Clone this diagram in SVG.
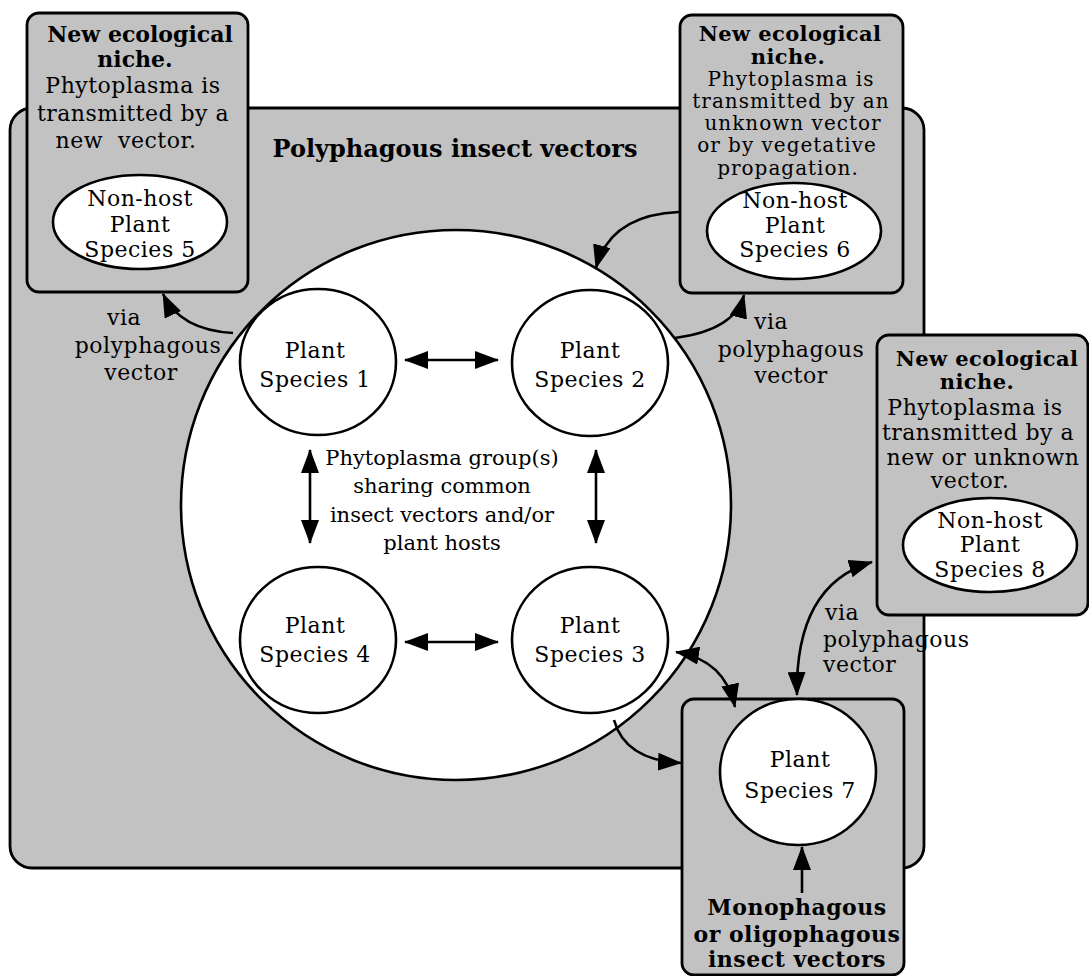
<svg xmlns="http://www.w3.org/2000/svg" width="1089" height="976" viewBox="0 0 1089 976">
<style>
.box{fill:#c2c2c2;stroke:#000;stroke-width:2.8}
.node{fill:#fff;stroke:#000;stroke-width:2.6}
text{font-family:"DejaVu Serif","Liberation Serif",serif;fill:#000;text-anchor:middle}
.b{font-weight:bold;font-size:22px}
.bs{font-weight:bold;font-size:21px;letter-spacing:0.4px}
.t{font-size:22px;letter-spacing:0.5px}
.s{font-size:20px;letter-spacing:1px}
.m{font-size:21px}
.n{font-size:22px;letter-spacing:0.5px}
.c{fill:none;stroke:#000;stroke-width:2.6}
.l{text-anchor:start}
</style>
<defs>
<marker id="ah" viewBox="0 0 24 18" refX="23" refY="9" markerWidth="24" markerHeight="18" markerUnits="userSpaceOnUse" orient="auto-start-reverse">
<path d="M0,0 L24,9 L0,18 z" fill="#000"/>
</marker>
</defs>
<g id="polyphagous-region">
<rect class="box" x="10" y="108" width="914" height="760" rx="22"/>
<text class="b" x="455" y="157" style="font-size:24px">Polyphagous insect vectors</text>
</g>
<g id="phytoplasma-group">
<circle class="node" cx="456" cy="505" r="275"/>
<text class="m" x="442" y="465">Phytoplasma group(s)</text>
<text class="m" x="442" y="493">sharing common</text>
<text class="m" x="442" y="522">insect vectors and/or</text>
<text class="m" x="442" y="550">plant hosts</text>
</g>
<g id="niche5">
<rect class="box" x="27" y="13" width="221" height="279" rx="12"/>
<text class="b" x="140" y="42">New ecological</text>
<text class="b" x="135" y="67">niche.</text>
<text class="t" x="133" y="93">Phytoplasma is</text>
<text class="t" x="133" y="121">transmitted by a</text>
<text class="t" x="126" y="148" xml:space="preserve">new  vector.</text>
<ellipse class="node" cx="140" cy="222" rx="87" ry="47"/>
<text class="n" x="140" y="206">Non-host</text>
<text class="n" x="140" y="232">Plant</text>
<text class="n" x="140" y="257">Species 5</text>
</g>
<g id="niche6">
<rect class="box" x="680" y="15" width="223" height="278" rx="12"/>
<text class="bs" x="790" y="41">New ecological</text>
<text class="bs" x="788" y="64">niche.</text>
<text class="s" x="791" y="86">Phytoplasma is</text>
<text class="s" x="791" y="108">transmitted by an</text>
<text class="s" x="793" y="130">unknown vector</text>
<text class="s" x="787" y="152">or by vegetative</text>
<text class="s" x="788" y="175">propagation.</text>
<ellipse class="node" cx="794" cy="231" rx="87" ry="48"/>
<text class="n" x="795" y="208">Non-host</text>
<text class="n" x="795" y="233">Plant</text>
<text class="n" x="795" y="257">Species 6</text>
</g>
<g id="niche8">
<rect class="box" x="877" y="335" width="211" height="280" rx="12"/>
<text class="bs" x="987" y="366">New ecological</text>
<text class="bs" x="977" y="389">niche.</text>
<text class="t" x="975" y="415">Phytoplasma is</text>
<text class="t" x="978" y="440">transmitted by a</text>
<text class="t" x="983" y="465">new or unknown</text>
<text class="t" x="970" y="488">vector.</text>
<ellipse class="node" cx="990" cy="545" rx="87" ry="47"/>
<text class="n" x="990" y="528">Non-host</text>
<text class="n" x="990" y="552">Plant</text>
<text class="n" x="990" y="577">Species 8</text>
</g>
<g id="monophagous-region">
<rect class="box" x="682" y="699" width="222" height="276" rx="12"/>
<text class="b" x="797" y="915" style="letter-spacing:0.5px">Monophagous</text>
<text class="b" x="797" y="942" style="letter-spacing:0.5px">or oligophagous</text>
<text class="b" x="797" y="967" style="letter-spacing:0.5px">insect vectors</text>
</g>
<g id="species1">
<ellipse class="node" cx="318" cy="362" rx="78" ry="73"/>
<text class="n" x="315" y="358">Plant</text>
<text class="n" x="315" y="387">Species 1</text>
</g>
<g id="species2">
<ellipse class="node" cx="590" cy="363" rx="78" ry="73"/>
<text class="n" x="590" y="358">Plant</text>
<text class="n" x="590" y="387">Species 2</text>
</g>
<g id="species4">
<ellipse class="node" cx="318" cy="640" rx="78" ry="73"/>
<text class="n" x="315" y="633">Plant</text>
<text class="n" x="315" y="662">Species 4</text>
</g>
<g id="species3">
<ellipse class="node" cx="590" cy="640" rx="78" ry="73"/>
<text class="n" x="590" y="633">Plant</text>
<text class="n" x="590" y="662">Species 3</text>
</g>
<g id="species7">
<ellipse class="node" cx="798" cy="772" rx="78" ry="73"/>
<text class="n" x="800" y="767">Plant</text>
<text class="n" x="800" y="798">Species 7</text>
</g>
<g id="connectors">
<path class="c" d="M405,360 L498,360" marker-start="url(#ah)" marker-end="url(#ah)"/>
<path class="c" d="M405,642 L498,642" marker-start="url(#ah)" marker-end="url(#ah)"/>
<path class="c" d="M310,450 L310,543" marker-start="url(#ah)" marker-end="url(#ah)"/>
<path class="c" d="M596,450 L596,543" marker-start="url(#ah)" marker-end="url(#ah)"/>
<path class="c" d="M233,333 Q180,330 163,294" marker-end="url(#ah)"/>
<path class="c" d="M679,212 Q610,215 596,268" marker-end="url(#ah)"/>
<path class="c" d="M675,338 Q735,330 744,295" marker-end="url(#ah)"/>
<path class="c" d="M676,652 Q725,660 735,707" marker-start="url(#ah)" marker-end="url(#ah)"/>
<path class="c" d="M614,720 Q625,760 681,763" marker-end="url(#ah)"/>
<path class="c" d="M797,695 Q795,585 872,562" marker-start="url(#ah)" marker-end="url(#ah)"/>
<path class="c" d="M802,893 L802,847" marker-end="url(#ah)"/>
</g>
<g id="labels">
<text class="t" x="124" y="325">via</text>
<text class="t" x="148" y="353">polyphagous</text>
<text class="t" x="141" y="380">vector</text>
<text class="t" x="771" y="329">via</text>
<text class="t" x="791" y="357">polyphagous</text>
<text class="t" x="791" y="383">vector</text>
<text class="t l" x="825" y="620">via</text>
<text class="t l" x="823" y="647">polyphagous</text>
<text class="t l" x="823" y="672">vector</text>
</g>
</svg>
